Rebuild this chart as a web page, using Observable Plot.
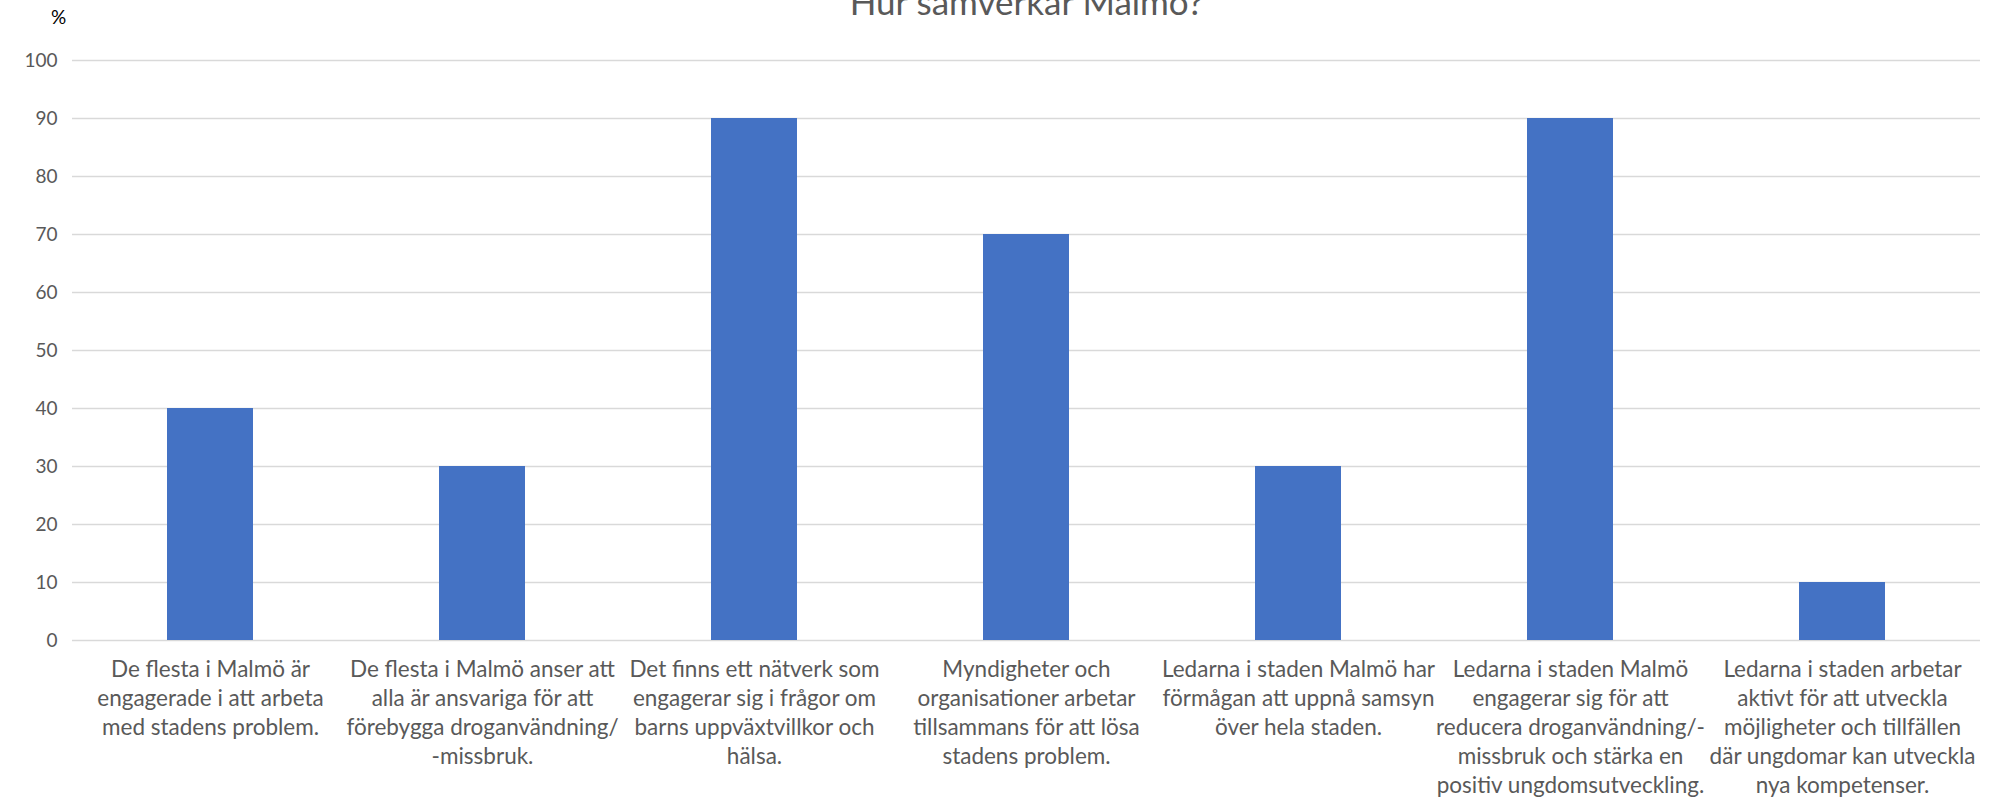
<!DOCTYPE html>
<html>
<head>
<meta charset="utf-8">
<script src="https://cdn.jsdelivr.net/npm/d3@7"></script>
<script src="https://cdn.jsdelivr.net/npm/@observablehq/plot@0.6"></script>
<style>
  html, body { margin: 0; padding: 0; background: #fff; overflow: hidden; }
  #chart { width: 1995px; height: 799px; }
</style>
</head>
<body>
<div id="chart"></div>
<script>
// Survey statements (wrapped as in the chart) and the share agreeing, in %
const statements = [
  "De flesta i Malmö är\nengagerade i att arbeta\nmed stadens problem.",
  "De flesta i Malmö anser att\nalla är ansvariga för att\nförebygga droganvändning/\n-missbruk.",
  "Det finns ett nätverk som\nengagerar sig i frågor om\nbarns uppväxtvillkor och\nhälsa.",
  "Myndigheter och\norganisationer arbetar\ntillsammans för att lösa\nstadens problem.",
  "Ledarna i staden Malmö har\nförmågan att uppnå samsyn\növer hela staden.",
  "Ledarna i staden Malmö\nengagerar sig för att\nreducera droganvändning/-\nmissbruk och stärka en\npositiv ungdomsutveckling.",
  "Ledarna i staden arbetar\naktivt för att utveckla\nmöjligheter och tillfällen\ndär ungdomar kan utveckla\nnya kompetenser."
];
const percents = [40, 30, 90, 70, 30, 90, 10];
const yTicks = [0, 10, 20, 30, 40, 50, 60, 70, 80, 90, 100];
const chartTitle = "Hur samverkar Malmö?";
const unitLabel = "%";

const rows = statements.map((s, i) => ({statement: s, value: percents[i]}));

const FONT = "Lato, 'Open Sans', sans-serif";
const GREY = "#595959";

const chart = Plot.plot({
  width: 1995,
  height: 799,
  marginTop: 60,
  marginBottom: 159,
  marginLeft: 72,
  marginRight: 15,
  style: {fontFamily: FONT, fontSize: "20px", color: GREY, background: "#fff"},
  x: {domain: statements, paddingInner: 0.685, paddingOuter: 0.3425, axis: null},
  y: {domain: [0, 100], axis: null},
  marks: [
    Plot.gridY(yTicks, {stroke: "#d9d9d9", strokeOpacity: 1, strokeWidth: 1.5}),
    Plot.barY(rows, {x: "statement", y: "value", fill: "#4472c4"}),
    Plot.axisY({ticks: yTicks, label: null, tickSize: 0, tickPadding: 15, fontSize: 19, fill: GREY}),
    // Category labels under each bar
    Plot.text(rows, {
      x: "statement", text: "statement", frameAnchor: "bottom",
      lineAnchor: "top", dy: 15.4, lineHeight: 1.29, fontSize: 22.5, fill: GREY
    }),
    // Unit label above the value axis
    Plot.text([unitLabel], {frameAnchor: "top-left", dx: -14, dy: -37, fontSize: 19, fill: "#000", textAnchor: "middle", lineAnchor: "bottom"}),
    // Chart title, partly above the top edge
    Plot.text([chartTitle], {frameAnchor: "top", dy: -46, lineAnchor: "bottom", fontSize: 35, fill: GREY})
  ]
});

document.getElementById("chart").appendChild(chart);
</script>
</body>
</html>
